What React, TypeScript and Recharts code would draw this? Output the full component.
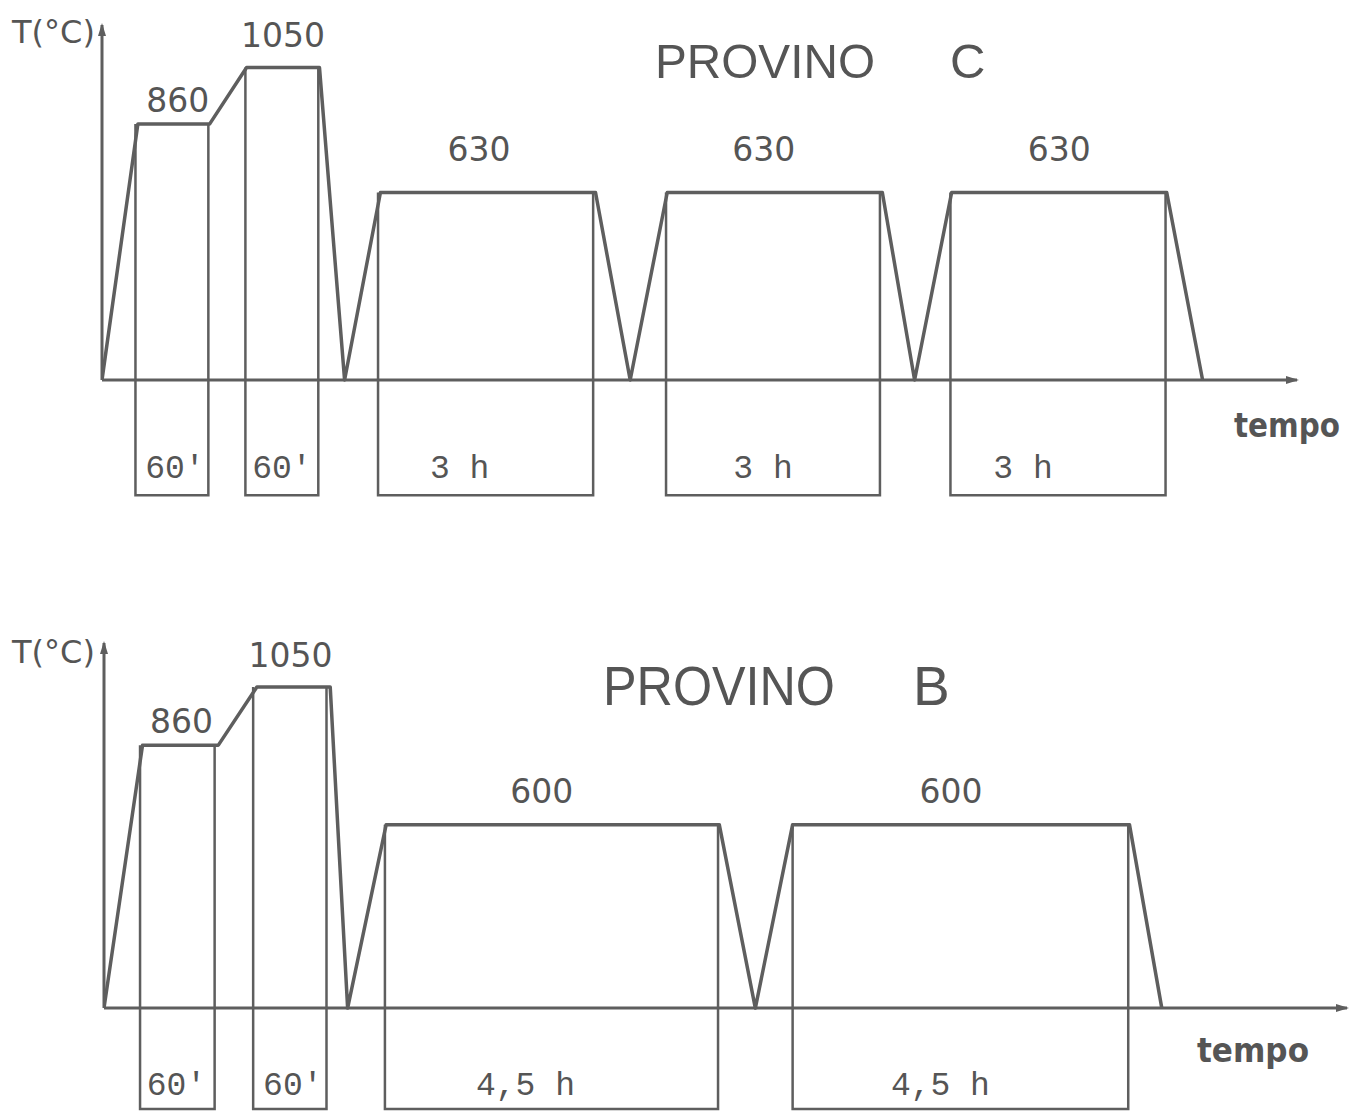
import React from 'react';
import { LineChart, Line, XAxis, YAxis, ReferenceLine, ReferenceDot } from 'recharts';

// PROVINO C - tempo in minuti, temperatura in °C
const cTime = [0, 30, 90, 121, 182, 203, 233, 413, 442, 473, 653, 680, 711, 891, 921];
const cTemp = [0, 860, 860, 1050, 1050, 0, 630, 630, 0, 630, 630, 0, 630, 630, 0];
const cPeakLabels = ['860', '1050', '630', '630', '630'];
const cHoldStart = [28, 120, 231, 472, 710];
const cHoldEnd = [89, 181, 411, 651, 890];
const cHoldTemp = [860, 1050, 630, 630, 630];
const cHoldLabels = ["60'", "60'", '3 h', '3 h', '3 h'];

// PROVINO B
const bTime = [0, 31, 92, 123, 182, 196, 227, 495, 524, 554, 825, 851];
const bTemp = [0, 860, 860, 1050, 1050, 0, 600, 600, 0, 600, 600, 0];
const bPeakLabels = ['860', '1050', '600', '600'];
const bHoldStart = [29, 120, 226, 554];
const bHoldEnd = [89, 179, 494, 824];
const bHoldTemp = [860, 1050, 600, 600];
const bHoldLabels = ["60'", "60'", '4,5 h', '4,5 h'];

// label nudges in px [dx, dy]
const cPeakNudge = [[4, -12], [0, -21], [-9, -32], [-11, -32], [0, -32]];
const cHoldNudge = [[3, -17], [0, -17], [-26, -17], [-10, -17], [-35, -17]];
const bPeakNudge = [[1, -12], [-3, -20], [-11, -22], [-10, -22]];
const bHoldNudge = [[-1, -14], [3, -14], [-26, -14], [-20, -14]];

const INK = '#5e5e5e';
const TEXT = '#555555';

type ProfileProps = {
  times: number[];
  temps: number[];
  peakLabels: string[];
  peakNudge: number[][];
  holdStart: number[];
  holdEnd: number[];
  holdTemp: number[];
  holdLabels: string[];
  holdNudge: number[][];
  holdBottom: number;
  xMax: number;
  yMin: number;
  yMax: number;
  width: number;
  height: number;
  margin: { top: number; right: number; bottom: number; left: number };
};

const textShape = (text: string, dx: number, dy: number, font: string, size: number) => (props: any) => (
  <text
    x={props.cx + dx}
    y={props.cy + dy}
    textAnchor="middle"
    fontFamily={font}
    fontSize={size}
    fill={TEXT}
  >
    {text}
  </text>
);

const arrowRight = (props: any) => (
  <polygon
    points={`${props.cx + 2},${props.cy} ${props.cx - 11},${props.cy - 4} ${props.cx - 11},${props.cy + 4}`}
    fill={INK}
  />
);

const arrowUp = (props: any) => (
  <polygon
    points={`${props.cx},${props.cy - 2} ${props.cx - 4},${props.cy + 11} ${props.cx + 4},${props.cy + 11}`}
    fill={INK}
  />
);

const Profile: React.FC<ProfileProps> = (p) => {
  const profile = p.times.map((t, i) => ({ t, T: p.temps[i] }));

  // plateaus: consecutive points at the same temperature above zero
  const plateaus: { t: number; T: number }[] = [];
  for (let i = 0; i < p.times.length - 1; i++) {
    if (p.temps[i] > 0 && p.temps[i] === p.temps[i + 1]) {
      plateaus.push({ t: (p.times[i] + p.times[i + 1]) / 2, T: p.temps[i] });
    }
  }

  return (
    <LineChart width={p.width} height={p.height} margin={p.margin}>
      <XAxis type="number" dataKey="t" domain={[0, p.xMax]} allowDataOverflow hide />
      <YAxis type="number" dataKey="T" domain={[p.yMin, p.yMax]} allowDataOverflow hide />

      <ReferenceLine
        segment={[{ x: 0, y: 0 }, { x: p.xMax, y: 0 }]}
        stroke={INK}
        strokeWidth={3}
        ifOverflow="visible"
      />
      <ReferenceLine
        segment={[{ x: 0, y: 0 }, { x: 0, y: p.yMax }]}
        stroke={INK}
        strokeWidth={3}
        ifOverflow="visible"
      />
      <ReferenceDot x={p.xMax} y={0} r={4} shape={arrowRight} ifOverflow="visible" />
      <ReferenceDot x={0} y={p.yMax} r={4} shape={arrowUp} ifOverflow="visible" />

      {p.holdStart.map((s, i) => (
        <Line
          key={'hold' + i}
          data={[
            { t: s, T: p.holdTemp[i] },
            { t: s, T: p.holdBottom },
            { t: p.holdEnd[i], T: p.holdBottom },
            { t: p.holdEnd[i], T: p.holdTemp[i] },
          ]}
          dataKey="T"
          type="linear"
          stroke={INK}
          strokeWidth={2.5}
          dot={false}
          isAnimationActive={false}
        />
      ))}

      <Line
        data={profile}
        dataKey="T"
        type="linear"
        stroke={INK}
        strokeWidth={3.5}
        strokeLinejoin="round"
        dot={false}
        isAnimationActive={false}
      />

      {plateaus.map((pl, i) => (
        <ReferenceDot
          key={'peak' + i}
          x={pl.t}
          y={pl.T}
          r={1}
          ifOverflow="visible"
          shape={textShape(p.peakLabels[i], p.peakNudge[i][0], p.peakNudge[i][1], 'DejaVu Sans', 33)}
        />
      ))}

      {p.holdStart.map((s, i) => (
        <ReferenceDot
          key={'dur' + i}
          x={(s + p.holdEnd[i]) / 2}
          y={p.holdBottom}
          r={1}
          ifOverflow="visible"
          shape={textShape(p.holdLabels[i], p.holdNudge[i][0], p.holdNudge[i][1], 'Liberation Mono', 33)}
        />
      ))}
    </LineChart>
  );
};

export default function App() {
  return (
    <div
      style={{
        position: 'absolute',
        left: 0,
        top: 0,
        width: 1353,
        height: 1113,
        overflow: 'hidden',
        background: '#ffffff',
      }}
    >
      <div style={{ position: 'absolute', left: 0, top: 0 }}>
        <Profile
          times={cTime}
          temps={cTemp}
          peakLabels={cPeakLabels}
          peakNudge={cPeakNudge}
          holdStart={cHoldStart}
          holdEnd={cHoldEnd}
          holdTemp={cHoldTemp}
          holdLabels={cHoldLabels}
          holdNudge={cHoldNudge}
          holdBottom={-387}
          xMax={1000}
          yMin={-400}
          yMax={1193}
          width={1353}
          height={540}
          margin={{ top: 25, right: 56, bottom: 41, left: 102 }}
        />
      </div>
      <div style={{ position: 'absolute', left: 0, top: 600 }}>
        <Profile
          times={bTime}
          temps={bTemp}
          peakLabels={bPeakLabels}
          peakNudge={bPeakNudge}
          holdStart={bHoldStart}
          holdEnd={bHoldEnd}
          holdTemp={bHoldTemp}
          holdLabels={bHoldLabels}
          holdNudge={bHoldNudge}
          holdBottom={-330}
          xMax={1000}
          yMin={-343}
          yMax={1194}
          width={1353}
          height={513}
          margin={{ top: 43, right: 6, bottom: 0, left: 104 }}
        />
      </div>

      <svg
        width={1353}
        height={1113}
        style={{ position: 'absolute', left: 0, top: 0, pointerEvents: 'none' }}
      >
        <g fill={TEXT} fontFamily="DejaVu Sans" fontSize={32}>
          <text x={12} y={43}>T(°C)</text>
          <text x={12} y={663}>T(°C)</text>
        </g>
        <g fill={TEXT} fontFamily="Liberation Sans">
          <text x={655} y={78} fontSize={49} textLength={220} lengthAdjust="spacingAndGlyphs">PROVINO</text>
          <text x={950} y={78} fontSize={49}>C</text>
          <text x={603} y={705} fontSize={55} textLength={232} lengthAdjust="spacingAndGlyphs">PROVINO</text>
          <text x={913} y={705} fontSize={55}>B</text>
        </g>
        <g fill={TEXT} fontFamily="DejaVu Sans" fontWeight="bold" fontSize={33}>
          <text x={1234} y={437} textLength={106} lengthAdjust="spacingAndGlyphs">tempo</text>
          <text x={1197} y={1062} textLength={112} lengthAdjust="spacingAndGlyphs">tempo</text>
        </g>
      </svg>
    </div>
  );
}
